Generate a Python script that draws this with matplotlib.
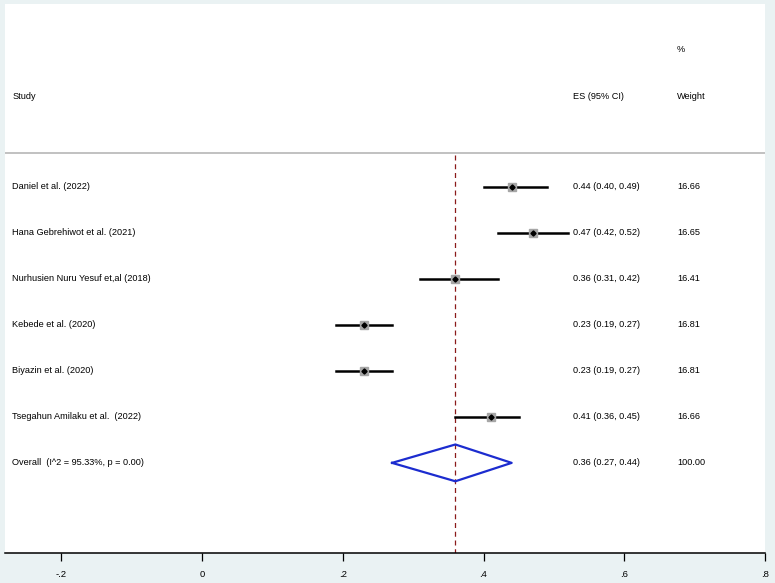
import matplotlib.pyplot as plt

# Data
studies = ["Daniel et al. (2022)", "Hana Gebrehiwot et al. (2021)",
           "Nurhusien Nuru Yesuf et,al (2018)", "Kebede et al. (2020)",
           "Biyazin et al. (2020)", "Tsegahun Amilaku et al.  (2022)"]
es = [0.44, 0.47, 0.36, 0.23, 0.23, 0.41]
lo = [0.40, 0.42, 0.31, 0.19, 0.19, 0.36]
hi = [0.49, 0.52, 0.42, 0.27, 0.27, 0.45]
weights = ["16.66", "16.65", "16.41", "16.81", "16.81", "16.66"]

overall_label = "Overall  (I^2 = 95.33%, p = 0.00)"
overall_es, overall_lo, overall_hi = 0.36, 0.27, 0.44
overall_weight = "100.00"

xticks = [-0.2, 0, 0.2, 0.4, 0.6, 0.8]
xticklabels = ["-.2", "0", ".2", ".4", ".6", ".8"]

bg = "#eaf2f3"
plt.rcParams["font.family"] = ["Liberation Sans", "DejaVu Sans"]

fig = plt.figure(figsize=(7.75, 5.83), dpi=100, facecolor=bg)
ax = fig.add_axes([5 / 775, 30 / 583, 760 / 775, 549 / 583])
ax.set_facecolor("white")
ax.set_xlim(-0.28, 0.8)
ax.set_ylim(7.96, -3.98)

fs = 6.6
x_study = -0.2695
x_es = 0.527
x_w = 0.675

# header
ax.text(x_study, -1.96, "Study", fontsize=fs, va="center")
ax.text(x_es, -1.96, "ES (95% CI)", fontsize=fs, va="center")
ax.text(x_w, -1.96, "Weight", fontsize=fs, va="center")
ax.text(x_w, -2.98, "%", fontsize=fs, va="center")
ax.axhline(-0.74, color="#b0b0b0", lw=1.1)

# reference line at overall estimate
ax.plot([overall_es, overall_es], [-0.7, 7.96], color="#8b1a1a", lw=0.9,
        ls=(0, (4, 3)), zorder=1)

for i, name in enumerate(studies):
    ax.plot([lo[i], hi[i]], [i, i], color="black", lw=1.8, zorder=2)
    ax.plot(es[i], i, marker="s", ms=5.2, color="#a6a6a6", mec="#a6a6a6", zorder=3)
    ax.plot(es[i], i, marker="D", ms=2.6, color="black", zorder=4)
    ax.text(x_study, i, name, fontsize=fs, va="center")
    ax.text(x_es, i, f"{es[i]:.2f} ({lo[i]:.2f}, {hi[i]:.2f})", fontsize=fs, va="center")
    ax.text(x_w, i, weights[i], fontsize=fs, va="center")

r = len(studies)
ax.plot([overall_lo, overall_es, overall_hi, overall_es, overall_lo],
        [r, r - 0.4, r, r + 0.4, r], color="#1c2ccf", lw=1.6, zorder=3)
ax.text(x_study, r, overall_label, fontsize=fs, va="center")
ax.text(x_es, r, f"{overall_es:.2f} ({overall_lo:.2f}, {overall_hi:.2f})",
        fontsize=fs, va="center")
ax.text(x_w, r, overall_weight, fontsize=fs, va="center")

for s in ["top", "left", "right"]:
    ax.spines[s].set_visible(False)
ax.spines["bottom"].set_linewidth(1.1)
ax.set_yticks([])
ax.set_xticks(xticks)
ax.set_xticklabels(xticklabels, fontsize=6.8)
ax.tick_params(axis="x", length=6, width=0.9, pad=6)

fig.savefig("out.png", dpi=100, facecolor=bg)
